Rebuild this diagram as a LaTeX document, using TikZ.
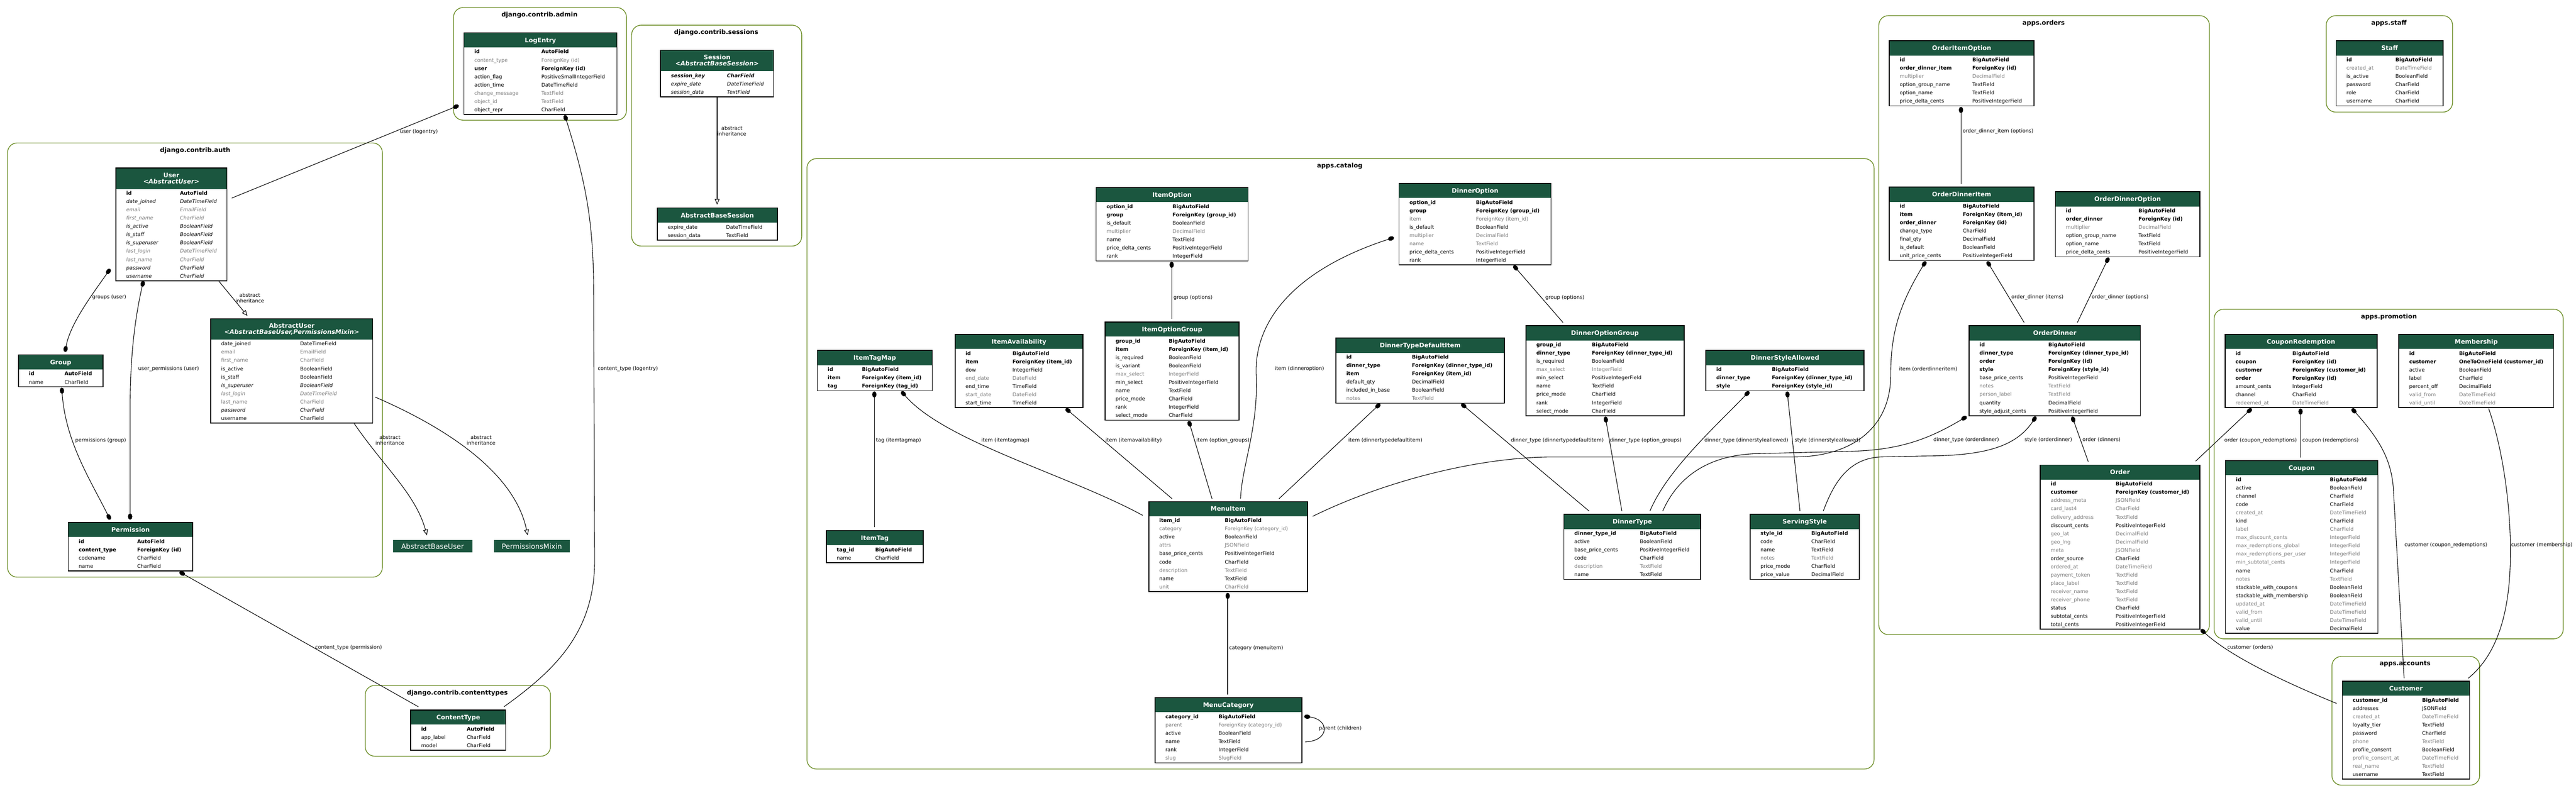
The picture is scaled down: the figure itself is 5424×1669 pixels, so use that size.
\documentclass[tikz,border=0pt]{standalone}
\usepackage{fontspec}
\setmainfont{DejaVu Sans}
\usepackage{xcolor}
\usetikzlibrary{shapes.multipart, arrows.meta, calc, positioning, backgrounds}

\definecolor{hdr}{HTML}{1B563F}
\definecolor{clus}{HTML}{698B22}
\definecolor{fgrey}{HTML}{7B7B7B}

\newdimen\upx \upx=0.5pt
\newdimen\nw \newdimen\tw
\newcommand\rowfont{\fontsize{5.35pt}{8.7pt}\selectfont}
\newcommand\hdrfont{\fontsize{6.5pt}{8.7pt}\selectfont\bfseries}
\newcommand\lblfont{\fontsize{5.35pt}{6pt}\selectfont}
\newcommand\ctfont{\fontsize{6.6pt}{8pt}\selectfont\bfseries}
\newcommand\bnfont{\fontsize{7.4pt}{8pt}\selectfont}

% one field row: name column, type column
\newcommand\fld[2]{\makebox[\nw][l]{\hspace*{11pt}#1}\makebox[\tw][l]{#2}\rule[-2.6pt]{0pt}{8.7pt}}
\newcommand\fN[2]{\fld{#1}{#2}}
\newcommand\fB[2]{\fld{\textbf{#1}}{\textbf{#2}}}
\newcommand\fI[2]{\fld{\textit{#1}}{\textit{#2}}}
\newcommand\fG[2]{\fld{\textcolor{fgrey}{#1}}{\textcolor{fgrey}{#2}}}
\newcommand\fGI[2]{\fld{\textcolor{fgrey}{\textit{#1}}}{\textcolor{fgrey}{\textit{#2}}}}
\newcommand\fBI[2]{\fld{\textbf{\textit{#1}}}{\textbf{\textit{#2}}}}
% model headers
\newcommand\mhead[1]{\textcolor{white}{\hdrfont\rule[-4.9pt]{0pt}{14.5pt}#1}}
\newcommand\mheadii[2]{\textcolor{white}{\hdrfont\begin{tabular}{@{}c@{}}\rule{0pt}{9.3pt}#1\\[-2.1pt]\textit{#2}\rule[-5.1pt]{0pt}{0pt}\end{tabular}}}

\tikzset{
  model/.style={rectangle split, rectangle split parts=2, rectangle split part fill={hdr,white},
    rectangle split draw splits=false, draw=black, line width=0.9pt, inner sep=0pt,
    anchor=north west, align=center, font=\rowfont},
  cols/.style 2 args={execute at begin node={\global\nw=#1\upx\global\tw=\dimexpr#2\upx-#1\upx\relax}},
  basebox/.style={fill=hdr, text=white, font=\bnfont, inner sep=0pt, anchor=north west, minimum height=13pt},
  cluster/.style={draw=clus, line width=0.75pt, rounded corners=10pt},
  ctitle/.style={font=\ctfont, inner sep=0pt},
  lbl/.style={font=\lblfont, inner sep=0pt, align=center},
  fk/.style={line width=0.6pt, {Ellipse[length=6.5pt,width=4.5pt]}-},
  mm/.style={line width=0.6pt, {Ellipse[length=6.5pt,width=4.5pt]}-{Ellipse[length=6.5pt,width=4.5pt]}},
  inh/.style={line width=0.6pt, -{Triangle[open,length=6pt,width=5pt]}},
  o2o/.style={line width=0.6pt}
}

\begin{document}
\begin{tikzpicture}[x=0.5pt, y=-0.5pt]
\useasboundingbox (0,0) rectangle (5424,1669);

% apps
\draw[cluster] (16,301) rectangle (805,1215);
\node[ctitle] (t-auth) at (411,317) {django.contrib.auth};
\draw[cluster] (955,16) rectangle (1319,253);
\node[ctitle] (t-admin) at (1136,32) {django.contrib.admin};
\draw[cluster] (1330,53) rectangle (1688,518);
\node[ctitle] (t-sessions) at (1508,69) {django.contrib.sessions};
\draw[cluster] (769,1443) rectangle (1159,1592);
\node[ctitle] (t-ctypes) at (963,1459) {django.contrib.contenttypes};
\draw[cluster] (1699,334) rectangle (3946,1619);
\node[ctitle] (t-catalog) at (2821,350) {apps.catalog};
\draw[cluster] (3956,33) rectangle (4652,1336);
\node[ctitle] (t-orders) at (4303,49) {apps.orders};
\draw[cluster] (4662,651) rectangle (5397,1345);
\node[ctitle] (t-promo) at (5030,667) {apps.promotion};
\draw[cluster] (4898,33) rectangle (5164,236);
\node[ctitle] (t-staff) at (5030,49) {apps.staff};
\draw[cluster] (4910,1382) rectangle (5221,1653);
\node[ctitle] (t-accounts) at (5064,1398) {apps.accounts};

% django.contrib.auth
\node[model, cols={135}{234}] (User) at (243,353) {\mheadii{User}{<AbstractUser>}\nodepart{two}\fB{id}{AutoField}\\
\fI{date\_joined}{DateTimeField}\\
\fGI{email}{EmailField}\\
\fGI{first\_name}{CharField}\\
\fI{is\_active}{BooleanField}\\
\fI{is\_staff}{BooleanField}\\
\fI{is\_superuser}{BooleanField}\\
\fGI{last\_login}{DateTimeField}\\
\fGI{last\_name}{CharField}\\
\fI{password}{CharField}\\
\fI{username}{CharField}};
\node[model, cols={188}{341}] (AbstractUser) at (443,670) {\mheadii{AbstractUser}{<AbstractBaseUser,PermissionsMixin>}\nodepart{two}\fN{date\_joined}{DateTimeField}\\
\fG{email}{EmailField}\\
\fG{first\_name}{CharField}\\
\fN{is\_active}{BooleanField}\\
\fN{is\_staff}{BooleanField}\\
\fI{is\_superuser}{BooleanField}\\
\fGI{last\_login}{DateTimeField}\\
\fG{last\_name}{CharField}\\
\fI{password}{CharField}\\
\fN{username}{CharField}};
\node[model, cols={97}{178}] (Group) at (38,746) {\mhead{Group}\nodepart{two}\fB{id}{AutoField}\\
\fN{name}{CharField}};
\node[model, cols={145}{262}] (Permission) at (143,1099) {\mhead{Permission}\nodepart{two}\fB{id}{AutoField}\\
\fB{content\_type}{ForeignKey (id)}\\
\fN{codename}{CharField}\\
\fN{name}{CharField}};
\node[basebox, minimum width=83.5pt] (AbstractBaseUser) at (827,1137) {AbstractBaseUser};
\node[basebox, minimum width=79.5pt] (PermissionsMixin) at (1040,1137) {PermissionsMixin};

% django.contrib.admin, sessions, contenttypes
\node[model, cols={163}{322}] (LogEntry) at (976,68) {\mhead{LogEntry}\nodepart{two}\fB{id}{AutoField}\\
\fG{content\_type}{ForeignKey (id)}\\
\fB{user}{ForeignKey (id)}\\
\fN{action\_flag}{PositiveSmallIntegerField}\\
\fN{action\_time}{DateTimeField}\\
\fG{change\_message}{TextField}\\
\fG{object\_id}{TextField}\\
\fN{object\_repr}{CharField}};
\node[model, cols={140}{238}] (Session) at (1390,105) {\mheadii{Session}{<AbstractBaseSession>}\nodepart{two}\fBI{session\_key}{CharField}\\
\fI{expire\_date}{DateTimeField}\\
\fI{session\_data}{TextField}};
\node[model, cols={145}{253}] (AbstractBaseSession) at (1383,437) {\mhead{AbstractBaseSession}\nodepart{two}\fN{expire\_date}{DateTimeField}\\
\fN{session\_data}{TextField}};
\node[model, cols={118}{200}] (ContentType) at (864,1494) {\mhead{ContentType}\nodepart{two}\fB{id}{AutoField}\\
\fN{app\_label}{CharField}\\
\fN{model}{CharField}};

% apps.catalog
\node[model, cols={161}{320}] (ItemOption) at (2307,394) {\mhead{ItemOption}\nodepart{two}\fB{option\_id}{BigAutoField}\\
\fB{group}{ForeignKey (group\_id)}\\
\fN{is\_default}{BooleanField}\\
\fG{multiplier}{DecimalField}\\
\fN{name}{TextField}\\
\fN{price\_delta\_cents}{PositiveIntegerField}\\
\fN{rank}{IntegerField}};
\node[model, cols={162}{320}] (DinnerOption) at (2945,385) {\mhead{DinnerOption}\nodepart{two}\fB{option\_id}{BigAutoField}\\
\fB{group}{ForeignKey (group\_id)}\\
\fG{item}{ForeignKey (item\_id)}\\
\fN{is\_default}{BooleanField}\\
\fG{multiplier}{DecimalField}\\
\fG{name}{TextField}\\
\fN{price\_delta\_cents}{PositiveIntegerField}\\
\fN{rank}{IntegerField}};
\node[model, cols={94}{242}] (ItemTagMap) at (1720,737) {\mhead{ItemTagMap}\nodepart{two}\fB{id}{BigAutoField}\\
\fB{item}{ForeignKey (item\_id)}\\
\fB{tag}{ForeignKey (tag\_id)}};
\node[model, cols={121}{269}] (ItemAvailability) at (2010,703) {\mhead{ItemAvailability}\nodepart{two}\fB{id}{BigAutoField}\\
\fB{item}{ForeignKey (item\_id)}\\
\fN{dow}{IntegerField}\\
\fG{end\_date}{DateField}\\
\fN{end\_time}{TimeField}\\
\fG{start\_date}{DateField}\\
\fN{start\_time}{TimeField}};
\node[model, cols={134}{282}] (ItemOptionGroup) at (2326,677) {\mhead{ItemOptionGroup}\nodepart{two}\fB{group\_id}{BigAutoField}\\
\fB{item}{ForeignKey (item\_id)}\\
\fN{is\_required}{BooleanField}\\
\fN{is\_variant}{BooleanField}\\
\fG{max\_select}{IntegerField}\\
\fN{min\_select}{PositiveIntegerField}\\
\fN{name}{TextField}\\
\fN{price\_mode}{CharField}\\
\fN{rank}{IntegerField}\\
\fN{select\_mode}{CharField}};
\node[model, cols={160}{355}] (DinnerTypeDefaultItem) at (2812,711) {\mhead{DinnerTypeDefaultItem}\nodepart{two}\fB{id}{BigAutoField}\\
\fB{dinner\_type}{ForeignKey (dinner\_type\_id)}\\
\fB{item}{ForeignKey (item\_id)}\\
\fN{default\_qty}{DecimalField}\\
\fN{included\_in\_base}{BooleanField}\\
\fG{notes}{TextField}};
\node[model, cols={139}{333}] (DinnerOptionGroup) at (3212,685) {\mhead{DinnerOptionGroup}\nodepart{two}\fB{group\_id}{BigAutoField}\\
\fB{dinner\_type}{ForeignKey (dinner\_type\_id)}\\
\fN{is\_required}{BooleanField}\\
\fG{max\_select}{IntegerField}\\
\fN{min\_select}{PositiveIntegerField}\\
\fN{name}{TextField}\\
\fN{price\_mode}{CharField}\\
\fN{rank}{IntegerField}\\
\fN{select\_mode}{CharField}};
\node[model, cols={139}{333}] (DinnerStyleAllowed) at (3591,737) {\mhead{DinnerStyleAllowed}\nodepart{two}\fB{id}{BigAutoField}\\
\fB{dinner\_type}{ForeignKey (dinner\_type\_id)}\\
\fB{style}{ForeignKey (style\_id)}};
\node[model, cols={160}{334}] (MenuItem) at (2418,1055) {\mhead{MenuItem}\nodepart{two}\fB{item\_id}{BigAutoField}\\
\fG{category}{ForeignKey (category\_id)}\\
\fN{active}{BooleanField}\\
\fG{attrs}{JSONField}\\
\fN{base\_price\_cents}{PositiveIntegerField}\\
\fN{code}{CharField}\\
\fG{description}{TextField}\\
\fN{name}{TextField}\\
\fG{unit}{CharField}};
\node[model, cols={103}{204}] (ItemTag) at (1739,1116) {\mhead{ItemTag}\nodepart{two}\fB{tag\_id}{BigAutoField}\\
\fN{name}{CharField}};
\node[model, cols={134}{309}] (MenuCategory) at (2431,1468) {\mhead{MenuCategory}\nodepart{two}\fB{category\_id}{BigAutoField}\\
\fG{parent}{ForeignKey (category\_id)}\\
\fN{active}{BooleanField}\\
\fN{name}{TextField}\\
\fN{rank}{IntegerField}\\
\fG{slug}{SlugField}};
\node[model, cols={160}{288}] (DinnerType) at (3292,1082) {\mhead{DinnerType}\nodepart{two}\fB{dinner\_type\_id}{BigAutoField}\\
\fN{active}{BooleanField}\\
\fN{base\_price\_cents}{PositiveIntegerField}\\
\fN{code}{CharField}\\
\fG{description}{TextField}\\
\fN{name}{TextField}};
\node[model, cols={129}{230}] (ServingStyle) at (3684,1082) {\mhead{ServingStyle}\nodepart{two}\fB{style\_id}{BigAutoField}\\
\fN{code}{CharField}\\
\fN{name}{TextField}\\
\fG{notes}{TextField}\\
\fN{price\_mode}{CharField}\\
\fN{price\_value}{DecimalField}};

% apps.orders
\node[model, cols={175}{305}] (OrderItemOption) at (3977,85) {\mhead{OrderItemOption}\nodepart{two}\fB{id}{BigAutoField}\\
\fB{order\_dinner\_item}{ForeignKey (id)}\\
\fG{multiplier}{DecimalField}\\
\fN{option\_group\_name}{TextField}\\
\fN{option\_name}{TextField}\\
\fN{price\_delta\_cents}{PositiveIntegerField}};
\node[model, cols={155}{305}] (OrderDinnerItem) at (3977,393) {\mhead{OrderDinnerItem}\nodepart{two}\fB{id}{BigAutoField}\\
\fB{item}{ForeignKey (item\_id)}\\
\fB{order\_dinner}{ForeignKey (id)}\\
\fN{change\_type}{CharField}\\
\fN{final\_qty}{DecimalField}\\
\fN{is\_default}{BooleanField}\\
\fN{unit\_price\_cents}{PositiveIntegerField}};
\node[model, cols={175}{304}] (OrderDinnerOption) at (4327,403) {\mhead{OrderDinnerOption}\nodepart{two}\fB{id}{BigAutoField}\\
\fB{order\_dinner}{ForeignKey (id)}\\
\fG{multiplier}{DecimalField}\\
\fN{option\_group\_name}{TextField}\\
\fN{option\_name}{TextField}\\
\fN{price\_delta\_cents}{PositiveIntegerField}};
\node[model, cols={167}{361}] (OrderDinner) at (4145,685) {\mhead{OrderDinner}\nodepart{two}\fB{id}{BigAutoField}\\
\fB{dinner\_type}{ForeignKey (dinner\_type\_id)}\\
\fB{order}{ForeignKey (id)}\\
\fB{style}{ForeignKey (style\_id)}\\
\fN{base\_price\_cents}{PositiveIntegerField}\\
\fG{notes}{TextField}\\
\fG{person\_label}{TextField}\\
\fN{quantity}{DecimalField}\\
\fN{style\_adjust\_cents}{PositiveIntegerField}};
\node[model, cols={159}{336}] (Order) at (4295,978) {\mhead{Order}\nodepart{two}\fB{id}{BigAutoField}\\
\fB{customer}{ForeignKey (customer\_id)}\\
\fG{address\_meta}{JSONField}\\
\fG{card\_last4}{CharField}\\
\fG{delivery\_address}{TextField}\\
\fN{discount\_cents}{PositiveIntegerField}\\
\fG{geo\_lat}{DecimalField}\\
\fG{geo\_lng}{DecimalField}\\
\fG{meta}{JSONField}\\
\fN{order\_source}{CharField}\\
\fG{ordered\_at}{DateTimeField}\\
\fG{payment\_token}{TextField}\\
\fG{place\_label}{TextField}\\
\fG{receiver\_name}{TextField}\\
\fG{receiver\_phone}{TextField}\\
\fN{status}{CharField}\\
\fN{subtotal\_cents}{PositiveIntegerField}\\
\fN{total\_cents}{PositiveIntegerField}};

% apps.promotion, apps.staff, apps.accounts
\node[model, cols={142}{320}] (CouponRedemption) at (4684,703) {\mhead{CouponRedemption}\nodepart{two}\fB{id}{BigAutoField}\\
\fB{coupon}{ForeignKey (id)}\\
\fB{customer}{ForeignKey (customer\_id)}\\
\fB{order}{ForeignKey (id)}\\
\fN{amount\_cents}{IntegerField}\\
\fN{channel}{CharField}\\
\fG{redeemed\_at}{DateTimeField}};
\node[model, cols={127}{326}] (Membership) at (5050,703) {\mhead{Membership}\nodepart{two}\fB{id}{BigAutoField}\\
\fB{customer}{OneToOneField (customer\_id)}\\
\fN{active}{BooleanField}\\
\fN{label}{CharField}\\
\fN{percent\_off}{DecimalField}\\
\fG{valid\_from}{DateTimeField}\\
\fG{valid\_until}{DateTimeField}};
\node[model, cols={220}{321}] (Coupon) at (4685,969) {\mhead{Coupon}\nodepart{two}\fB{id}{BigAutoField}\\
\fN{active}{BooleanField}\\
\fN{channel}{CharField}\\
\fN{code}{CharField}\\
\fG{created\_at}{DateTimeField}\\
\fN{kind}{CharField}\\
\fG{label}{CharField}\\
\fG{max\_discount\_cents}{IntegerField}\\
\fG{max\_redemptions\_global}{IntegerField}\\
\fG{max\_redemptions\_per\_user}{IntegerField}\\
\fG{min\_subtotal\_cents}{IntegerField}\\
\fN{name}{CharField}\\
\fG{notes}{TextField}\\
\fN{stackable\_with\_coupons}{BooleanField}\\
\fN{stackable\_with\_membership}{BooleanField}\\
\fG{updated\_at}{DateTimeField}\\
\fG{valid\_from}{DateTimeField}\\
\fG{valid\_until}{DateTimeField}\\
\fN{value}{DecimalField}};
\node[model, cols={125}{225}] (Staff) at (4918,85) {\mhead{Staff}\nodepart{two}\fB{id}{BigAutoField}\\
\fG{created\_at}{DateTimeField}\\
\fN{is\_active}{BooleanField}\\
\fN{password}{CharField}\\
\fN{role}{CharField}\\
\fN{username}{CharField}};
\node[model, cols={168}{268}] (Customer) at (4931,1433) {\mhead{Customer}\nodepart{two}\fB{customer\_id}{BigAutoField}\\
\fN{addresses}{JSONField}\\
\fG{created\_at}{DateTimeField}\\
\fN{loyalty\_tier}{TextField}\\
\fN{password}{CharField}\\
\fG{phone}{TextField}\\
\fN{profile\_consent}{BooleanField}\\
\fG{profile\_consent\_at}{DateTimeField}\\
\fG{real\_name}{TextField}\\
\fN{username}{TextField}};

% relations
\draw[mm] ($(User.north west)+(-11,213)$) .. controls (198,615) and (148,680) .. ($(Group.north west)+(99,-5)$);
\draw[mm] ($(User.north west)+(59,238)$) .. controls (282,680) and (274,760) .. (274,860) -- ($(Permission.north west)+(131,-5)$);
\draw[mm] ($(Group.north west)+(92,70)$) .. controls (138,930) and (190,1010) .. ($(Permission.north west)+(89,-5)$);
\draw[inh] ($(User.north west)+(217,238)$) -- ($(AbstractUser.north west)+(78,-5)$);
\draw[inh] ($(AbstractUser.north west)+(303,222)$) .. controls (810,985) and (875,1040) .. ($(AbstractBaseUser.north west)+(72,-10)$);
\draw[inh] ($(AbstractUser.north west)+(347,166)$) .. controls (950,905) and (1085,1000) .. ($(PermissionsMixin.north west)+(71,-10)$);
\draw[fk] ($(LogEntry.north west)+(-10,154)$) -- ($(User.north west)+(245,64)$);
\draw[fk] ($(LogEntry.north west)+(213,174)$) .. controls (1232,380) and (1250,460) .. (1250,620) -- (1252,1180) .. controls (1252,1330) and (1170,1410) .. ($(ContentType.north west)+(197,-6)$);
\draw[fk] ($(Permission.north west)+(235,105)$) -- ($(ContentType.north west)+(17,-6)$);
\draw[inh] ($(Session.north west)+(120,100)$) -- ($(AbstractBaseSession.north west)+(127,-6)$);

\draw[fk] ($(ItemOption.north west)+(160,157)$) -- ($(ItemOptionGroup.north west)+(141,-6)$);
\draw[fk] ($(DinnerOption.north west)+(242,174)$) -- ($(DinnerOptionGroup.north west)+(79,-6)$);
\draw[fk] ($(ItemTagMap.north west)+(121,87)$) -- ($(ItemTag.north west)+(102,-6)$);
\draw[fk] ($(ItemTagMap.north west)+(178,87)$) .. controls (1990,930) and (2250,1000) .. ($(MenuItem.north west)+(-12,30)$);
\draw[fk] ($(ItemAvailability.north west)+(234,157)$) -- ($(MenuItem.north west)+(50,-5)$);
\draw[fk] ($(ItemOptionGroup.north west)+(177,209)$) -- ($(MenuItem.north west)+(134,-5)$);
\draw[fk] ($(DinnerOption.north west)+(-10,115)$) .. controls (2720,570) and (2640,680) .. (2645,790) .. controls (2650,900) and (2615,980) .. ($(MenuItem.north west)+(194,-5)$);
\draw[fk] ($(DinnerTypeDefaultItem.north west)+(94,139)$) -- ($(MenuItem.north west)+(275,-5)$);
\draw[fk] ($(DinnerTypeDefaultItem.north west)+(265,139)$) -- ($(DinnerType.north west)+(54,-6)$);
\draw[fk] ($(DinnerOptionGroup.north west)+(168,192)$) -- ($(DinnerType.north west)+(123,-6)$);
\draw[fk] ($(DinnerStyleAllowed.north west)+(92,87)$) .. controls (3610,900) and (3510,990) .. ($(DinnerType.north west)+(182,-6)$);
\draw[fk] ($(DinnerStyleAllowed.north west)+(172,87)$) -- ($(ServingStyle.north west)+(106,-6)$);
\draw[fk] ($(MenuItem.north west)+(167,193)$) -- ($(MenuCategory.north west)+(154,-6)$);
\draw[fk] ($(MenuCategory.north west)+(315,40)$) .. controls (2800,1515) and (2800,1560) .. ($(MenuCategory.north west)+(317,94)$);

\draw[fk] ($(OrderItemOption.north west)+(152,140)$) -- ($(OrderDinnerItem.north west)+(152,-6)$);
\draw[fk] ($(OrderDinnerItem.north west)+(207,157)$) -- ($(OrderDinner.north west)+(117,-6)$);
\draw[fk] ($(OrderDinnerOption.north west)+(113,139)$) -- ($(OrderDinner.north west)+(229,-6)$);
\draw[fk] ($(OrderDinnerItem.north west)+(78,157)$) .. controls (4000,640) and (3981,700) .. (3981,790) .. controls (3981,900) and (3900,962) .. (3777,962) -- (3272,962) .. controls (3100,962) and (2900,1020) .. ($(MenuItem.north west)+(346,32)$);
\draw[fk] ($(OrderDinner.north west)+(-4,192)$) .. controls (4060,925) and (4000,947) .. (3900,950) -- (3700,955) .. controls (3590,958) and (3530,1010) .. ($(DinnerType.north west)+(209,-6)$);
\draw[fk] ($(OrderDinner.north west)+(142,192)$) .. controls (4245,940) and (4180,960) .. (4050,960) -- (3960,962) .. controls (3890,965) and (3860,1020) .. ($(ServingStyle.north west)+(155,-6)$);
\draw[fk] ($(OrderDinner.north west)+(218,192)$) -- ($(Order.north west)+(102,-6)$);
\draw[fk] ($(Order.north west)+(339,347)$) .. controls (4700,1385) and (4820,1440) .. ($(Customer.north west)+(-11,48)$);

\draw[fk] ($(CouponRedemption.north west)+(57,157)$) -- ($(Order.north west)+(328,-7)$);
\draw[fk] ($(CouponRedemption.north west)+(160,157)$) -- ($(Coupon.north west)+(159,-6)$);
\draw[fk] ($(CouponRedemption.north west)+(268,157)$) .. controls (5015,930) and (5038,975) .. (5040,1040) -- ($(Customer.north west)+(131,-5)$);
\draw[o2o] ($(Membership.north west)+(190,157)$) .. controls (5275,960) and (5290,1100) .. (5285,1200) .. controls (5280,1310) and (5250,1385) .. ($(Customer.north west)+(266,-5)$);

% relation labels
\node[lbl] (l-groups) at (230,626) {groups (user)};
\node[lbl] (l-uperm) at (355,777) {user\_permissions (user)};
\node[lbl] (l-gperm) at (212,927) {permissions (group)};
\node[lbl] (l-inh1) at (526,627) {abstract\\inheritance};
\node[lbl] (l-inh2) at (821,927) {abstract\\inheritance};
\node[lbl] (l-inh3) at (1013,927) {abstract\\inheritance};
\node[lbl] (l-logu) at (882,277) {user (logentry)};
\node[lbl] (l-logct) at (1322,777) {content\_type (logentry)};
\node[lbl] (l-permct) at (734,1363) {content\_type (permission)};
\node[lbl] (l-inh4) at (1541,276) {abstract\\inheritance};
\node[lbl] (l-iog) at (2512,627) {group (options)};
\node[lbl] (l-dog) at (3295,627) {group (options)};
\node[lbl] (l-dopt) at (2736,777) {item (dinneroption)};
\node[lbl] (l-tag) at (1892,927) {tag (itemtagmap)};
\node[lbl] (l-itm) at (2117,927) {item (itemtagmap)};
\node[lbl] (l-iav) at (2387,927) {item (itemavailability)};
\node[lbl] (l-iogr) at (2575,927) {item (option\_groups)};
\node[lbl] (l-dtdi) at (2917,927) {item (dinnertypedefaultitem)};
\node[lbl] (l-dtdi2) at (3279,927) {dinner\_type (dinnertypedefaultitem)};
\node[lbl] (l-dtog) at (3465,927) {dinner\_type (option\_groups)};
\node[lbl] (l-dtsa) at (3677,927) {dinner\_type (dinnerstyleallowed)};
\node[lbl] (l-stsa) at (3848,927) {style (dinnerstyleallowed)};
\node[lbl] (l-cat) at (2645,1364) {category (menuitem)};
\node[lbl] (l-par) at (2822,1534) {parent (children)};
\node[lbl] (l-odi) at (4207,277) {order\_dinner\_item (options)};
\node[lbl] (l-odit) at (4290,626) {order\_dinner (items)};
\node[lbl] (l-odop) at (4464,626) {order\_dinner (options)};
\node[lbl] (l-iodi) at (4060,777) {item (orderdinneritem)};
\node[lbl] (l-dtod) at (4140,926) {dinner\_type (orderdinner)};
\node[lbl] (l-stod) at (4313,926) {style (orderdinner)};
\node[lbl] (l-ordd) at (4425,926) {order (dinners)};
\node[lbl] (l-cord) at (4738,1363) {customer (orders)};
\node[lbl] (l-ocr) at (4760,927) {order (coupon\_redemptions)};
\node[lbl] (l-ccr) at (4907,927) {coupon (redemptions)};
\node[lbl] (l-cucr) at (5150,1148) {customer (coupon\_redemptions)};
\node[lbl] (l-cmem) at (5352,1148) {customer (membership)};
\end{tikzpicture}
\end{document}
